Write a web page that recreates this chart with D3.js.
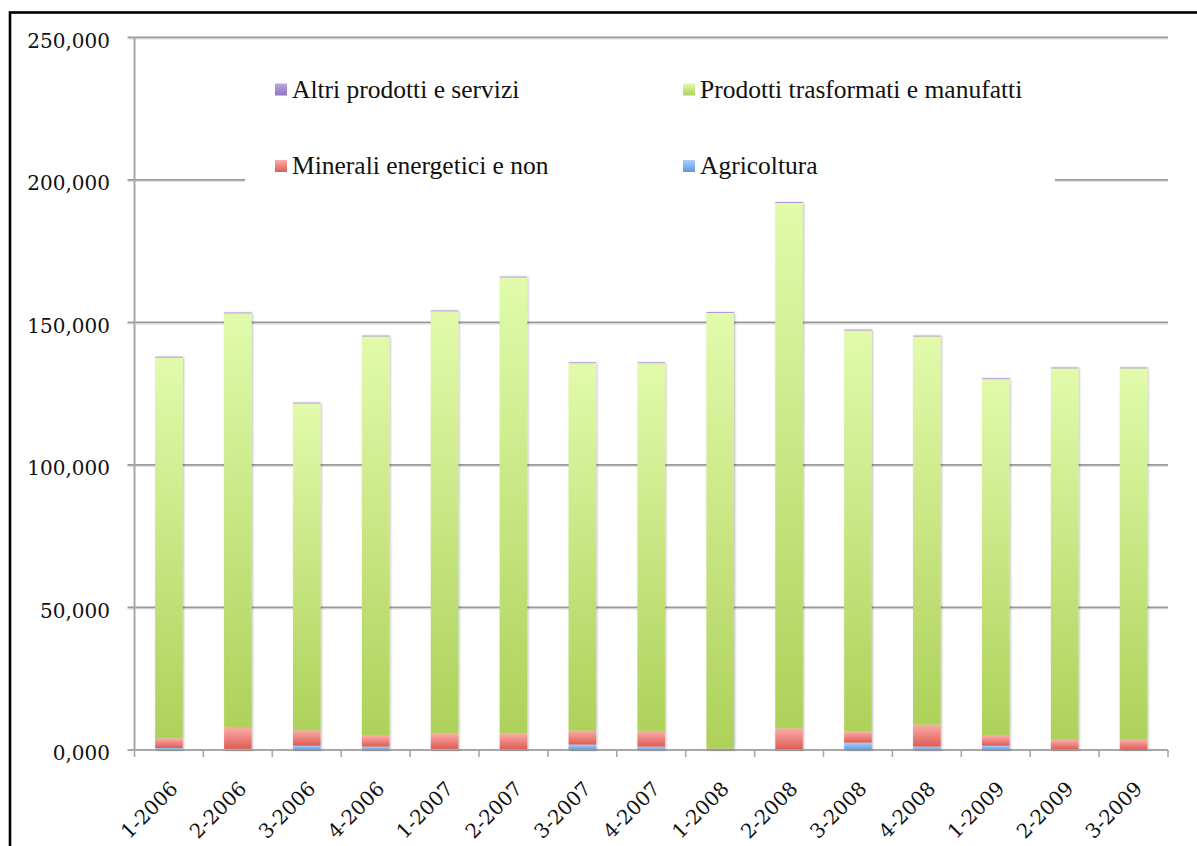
<!DOCTYPE html>
<html>
<head>
<meta charset="utf-8">
<script src="https://cdn.jsdelivr.net/npm/d3@7"></script>
<style>
  html, body { margin: 0; padding: 0; background: #fff; }
  svg { display: block; }
</style>
</head>
<body>
<svg id="chart" width="1197" height="846"></svg>
<script>
// Quarterly values by sector, stacked bottom to top
const categories = ["1-2006","2-2006","3-2006","4-2006","1-2007","2-2007","3-2007","4-2007",
                    "1-2008","2-2008","3-2008","4-2008","1-2009","2-2009","3-2009"];
const agricoltura = [700, 400, 1500, 1200, 400, 200, 1900, 1200, 100, 200, 2600, 1200, 1500, 200, 100];
const minerali    = [3400, 7400, 5400, 3800, 5400, 5600, 4900, 5500, 400, 7400, 3900, 7700, 3500, 3400, 3500];
const trasformati = [133600, 145400, 114700, 140100, 148100, 160000, 128900, 129000,
                     152800, 184300, 140700, 136200, 125100, 130300, 130300];
const altri       = [300, 300, 300, 300, 300, 300, 300, 300, 300, 300, 300, 300, 300, 300, 300];

const yTickValues = [0, 50000, 100000, 150000, 200000, 250000];
const yTickLabels = ["0,000", "50,000", "100,000", "150,000", "200,000", "250,000"];

const seriesNames = {
  agricoltura: "Agricoltura",
  minerali: "Minerali energetici e non",
  trasformati: "Prodotti trasformati e manufatti",
  altri: "Altri prodotti e servizi"
};
const seriesKeys = ["agricoltura", "minerali", "trasformati", "altri"];
const seriesColors = {
  agricoltura: ["#acd1f8", "#5b98e0"],
  minerali:    ["#fcaca8", "#dd5c55"],
  trasformati: ["#e1fbab", "#aed15a"],
  altri:       ["#bca6e0", "#9274c0"]
};

const rows = categories.map((c, i) => ({
  cat: c,
  agricoltura: agricoltura[i],
  minerali: minerali[i],
  trasformati: trasformati[i],
  altri: altri[i]
}));

const svg = d3.select("#chart");
const plotLeft = 134.5, plotRight = 1168, plotTop = 37.3, plotBottom = 750;

// gradients and shadow
const defs = svg.append("defs");
seriesKeys.forEach(k => {
  const g = defs.append("linearGradient")
    .attr("id", "grad-" + k).attr("x1", 0).attr("y1", 0).attr("x2", 0).attr("y2", 1);
  g.append("stop").attr("offset", "0%").attr("stop-color", seriesColors[k][0]);
  g.append("stop").attr("offset", "100%").attr("stop-color", seriesColors[k][1]);
});
const f = defs.append("filter").attr("id", "shadow")
  .attr("x", "-30%").attr("y", "-5%").attr("width", "160%").attr("height", "110%");
f.append("feDropShadow").attr("dx", 1).attr("dy", 0.5).attr("stdDeviation", 1.3)
  .attr("flood-color", "#000").attr("flood-opacity", 0.28);

// outer frame
svg.append("rect").attr("x", 10).attr("y", 12.5).attr("width", 1300).attr("height", 1000)
  .attr("fill", "none").attr("stroke", "#000").attr("stroke-width", 2.6);

const x = d3.scaleBand().domain(categories).range([plotLeft, plotRight])
  .paddingInner(0.6).paddingOuter(0.3);
const y = d3.scaleLinear().domain([0, 250000]).range([plotBottom, plotTop]);

// horizontal gridlines
const grid = svg.append("g");
yTickValues.filter(v => v > 0).forEach(v => {
  grid.append("line").attr("x1", plotLeft - 7).attr("x2", plotRight)
    .attr("y1", y(v) + 1.5).attr("y2", y(v) + 1.5)
    .attr("stroke", "#dedede").attr("stroke-width", 1.2);
  grid.append("line").attr("x1", plotLeft - 7).attr("x2", plotRight)
    .attr("y1", y(v)).attr("y2", y(v))
    .attr("stroke", "#9a9a9a").attr("stroke-width", 1.7);
});

// axis lines
svg.append("line").attr("x1", plotLeft).attr("x2", plotLeft).attr("y1", plotTop).attr("y2", plotBottom)
  .attr("stroke", "#a8a8a8").attr("stroke-width", 2);
svg.append("line").attr("x1", plotLeft - 7).attr("x2", plotRight).attr("y1", plotBottom).attr("y2", plotBottom)
  .attr("stroke", "#a8a8a8").attr("stroke-width", 2);

// x ticks at category boundaries
const step = x.step();
d3.range(categories.length + 1).forEach(i => {
  const xx = plotLeft + i * step;
  svg.append("line").attr("x1", xx).attr("x2", xx).attr("y1", plotBottom).attr("y2", plotBottom + 7)
    .attr("stroke", "#a8a8a8").attr("stroke-width", 1.6);
});

// y tick labels
svg.append("g").selectAll("text").data(yTickValues).join("text")
  .attr("x", 110).attr("y", d => y(d) + 10.4)
  .attr("text-anchor", "end")
  .attr("font-family", "DejaVu Serif")
  .attr("font-size", 20)
  .attr("fill", "#111")
  .text((d, i) => yTickLabels[i]);

// stacked bars
const stack = d3.stack().keys(seriesKeys)(rows);
const bars = svg.append("g").attr("filter", "url(#shadow)");
stack.forEach(layer => {
  bars.append("g").attr("fill", "url(#grad-" + layer.key + ")")
    .selectAll("rect").data(layer).join("rect")
    .attr("x", d => x(d.data.cat))
    .attr("width", x.bandwidth())
    .attr("y", d => y(d[1]))
    .attr("height", d => Math.max(0, y(d[0]) - y(d[1])));
});

// x labels, rotated
svg.append("g").selectAll("text").data(categories).join("text")
  .attr("transform", d => `translate(${x(d) + x.bandwidth() / 2 + 10},${plotBottom + 40}) rotate(-45)`)
  .attr("text-anchor", "end")
  .attr("font-family", "DejaVu Serif")
  .attr("font-size", 20)
  .attr("fill", "#111")
  .text(d => d);

// legend
const legend = svg.append("g");
legend.append("rect").attr("x", 245).attr("y", 50).attr("width", 810).attr("height", 140)
  .attr("fill", "#fff");
const legendItems = [
  { key: "altri", x: 275, y: 89.5 },
  { key: "trasformati", x: 683, y: 89.5 },
  { key: "minerali", x: 275, y: 166 },
  { key: "agricoltura", x: 683, y: 166 }
];
legendItems.forEach(it => {
  legend.append("rect").attr("x", it.x).attr("y", it.y - 6).attr("width", 12).attr("height", 12)
    .attr("fill", "url(#grad-" + it.key + ")");
  legend.append("text").attr("x", it.x + 17).attr("y", it.y + 8)
    .attr("font-family", "Liberation Serif")
    .attr("font-size", 25.5)
    .attr("fill", "#111")
    .text(seriesNames[it.key]);
});
</script>
</body>
</html>
